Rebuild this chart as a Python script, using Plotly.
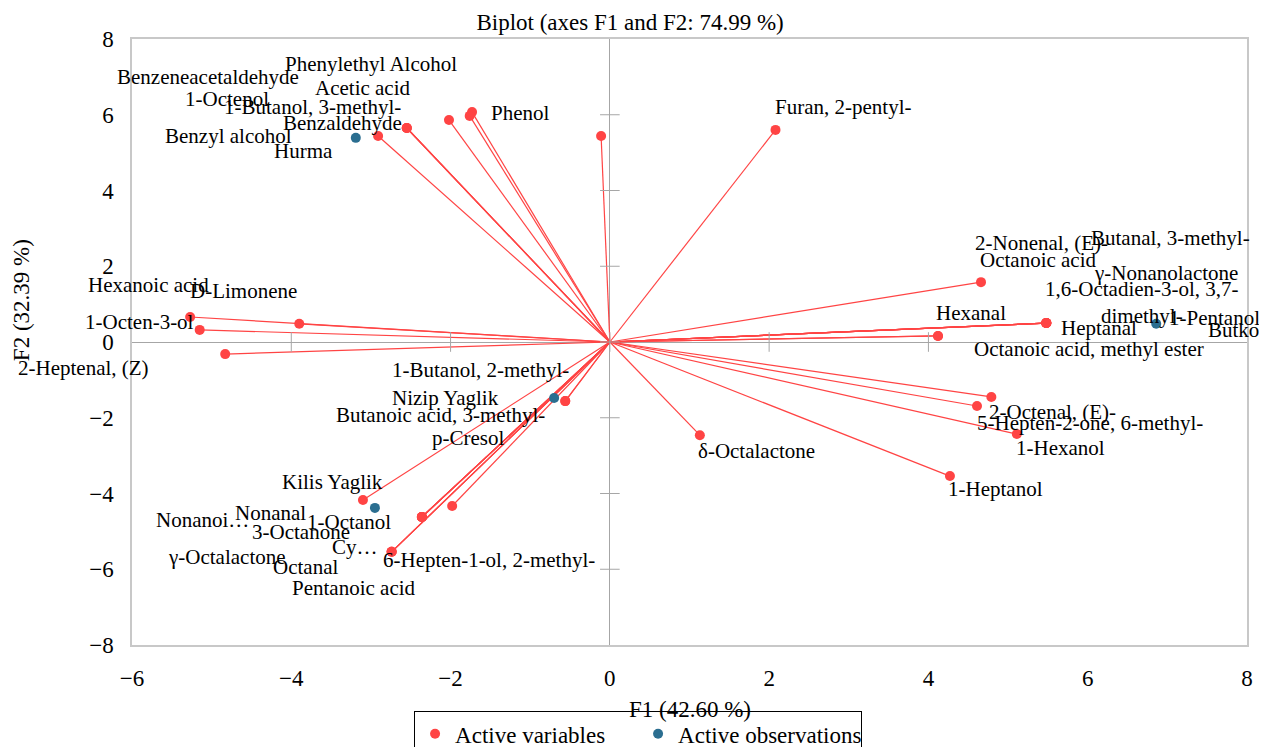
import plotly.graph_objects as go

# ---------------- data ----------------
var_names = [
    "Benzyl alcohol", "Benzaldehyde", "1-Butanol, 3-methyl-", "Benzeneacetaldehyde",
    "1-Octenol", "Phenylethyl Alcohol", "Acetic acid", "Phenol",
    "Furan, 2-pentyl-",
    "2-Nonenal, (E)-", "Butanal, 3-methyl-", "Octanoic acid", "γ-Nonanolactone",
    "1,6-Octadien-3-ol, 3,7-<br>dimethyl-", "1-Pentanol", "Heptanal",
    "Hexanal", "Octanoic acid, methyl ester",
    "2-Octenal, (E)-", "5-Hepten-2-one, 6-methyl-", "1-Hexanol", "1-Heptanol", "δ-Octalactone",
    "Hexanoic acid", "1-Octen-3-ol", "D-Limonene", "2-Heptenal, (Z)",
    "1-Butanol, 2-methyl-", "Butanoic acid, 3-methyl-", "Nonanoi…",
    "1-Octanol", "3-Octanone", "Nonanal", "γ-Octalactone", "Octanal",
    "p-Cresol", "6-Hepten-1-ol, 2-methyl-", "Pentanoic acid", "Cy…",
]
var_f1 = [
    -2.91, -2.55, -2.55, -2.55,
    -2.02, -1.73, -1.76, -0.11,
    2.08,
    4.66, 5.48, 5.48, 5.48,
    5.48, 5.48, 5.48,
    4.12, 4.12,
    4.79, 4.61, 5.11, 4.27, 1.13,
    -5.27, -5.15, -3.90, -4.83,
    -0.56, -0.56, -3.10,
    -2.36, -2.36, -2.36, -2.36, -2.36,
    -1.98, -2.74, -2.74, -2.74,
]
var_f2 = [
    5.44, 5.65, 5.65, 5.65,
    5.86, 6.07, 5.97, 5.44,
    5.60,
    1.58, 0.50, 0.50, 0.50,
    0.50, 0.50, 0.50,
    0.16, 0.16,
    -1.45, -1.69, -2.43, -3.54, -2.46,
    0.66, 0.32, 0.48, -0.32,
    -1.56, -1.56, -4.17,
    -4.62, -4.62, -4.62, -4.62, -4.62,
    -4.33, -5.54, -5.54, -5.54,
]

obs_names = ["Hurma", "Butko", "Nizip Yaglik", "Kilis Yaglik"]
obs_f1 = [-3.19, 6.86, -0.70, -2.95]
obs_f2 = [5.39, 0.48, -1.48, -4.38]

x_ticks = [-6, -4, -2, 0, 2, 4, 6, 8]
y_ticks = [-8, -6, -4, -2, 0, 2, 4, 6, 8]

# ---------------- style ----------------
RED = "#FF4444"
BLUE = "#2B6E90"
GREY = "#A6A6A6"
FONT = "Times New Roman, Liberation Serif, Tinos, DejaVu Serif, serif"

# label offsets in pixels (dx right, dy down) relative to each point
var_shift = {
    "Benzyl alcohol": (-150, 0), "Benzaldehyde": (-64, -5),
    "1-Butanol, 3-methyl-": (-94, -21), "Benzeneacetaldehyde": (-199, -51),
    "1-Octenol": (-222, -21), "Phenylethyl Alcohol": (-101, -48),
    "Acetic acid": (-107, -28), "Phenol": (-81, -23),
    "Furan, 2-pentyl-": (67, -23),
    "2-Nonenal, (E)-": (61, -39), "Butanal, 3-methyl-": (124, -85),
    "Octanoic acid": (-8, -63), "γ-Nonanolactone": (120, -50),
    "1,6-Octadien-3-ol, 3,7-<br>dimethyl-": (96, -21), "1-Pentanol": (168, -5),
    "Heptanal": (53, 5), "Hexanal": (33, -23), "Octanoic acid, methyl ester": (151, 13),
    "2-Octenal, (E)-": (61, 15), "5-Hepten-2-one, 6-methyl-": (113, 17),
    "1-Hexanol": (44, 14), "1-Heptanol": (46, 13), "δ-Octalactone": (57, 16),
    "Hexanoic acid": (-42, -32), "1-Octen-3-ol": (-60, -8),
    "D-Limonene": (-56, -33), "2-Heptenal, (Z)": (-142, 14),
    "1-Butanol, 2-methyl-": (-85, -31), "Butanoic acid, 3-methyl-": (-125, 14),
    "Nonanoi…": (-160, 20), "1-Octanol": (-73, 5), "3-Octanone": (-121, 15),
    "Nonanal": (-151, -4), "γ-Octalactone": (-195, 40), "Octanal": (-116, 50),
    "p-Cresol": (16, -68), "6-Hepten-1-ol, 2-methyl-": (97, 8),
    "Pentanoic acid": (-38, 36), "Cy…": (-37, -5),
}
obs_shift = {
    "Hurma": (-52, 13), "Butko": (77, 6),
    "Nizip Yaglik": (-109, 0), "Kilis Yaglik": (-42, -26),
}

fig = go.Figure()

# vectors from origin
lx, ly = [], []
for a, b in zip(var_f1, var_f2):
    lx += [0, a, None]
    ly += [0, b, None]
fig.add_trace(go.Scatter(x=lx, y=ly, mode="lines", line=dict(color=RED, width=1.2),
                         showlegend=False, hoverinfo="skip"))

# tick marks crossing the zero axes
xt_inner = [t for t in x_ticks if t not in (x_ticks[0], x_ticks[-1])]
yt_inner = [t for t in y_ticks if t not in (y_ticks[0], y_ticks[-1])]
fig.add_trace(go.Scatter(x=xt_inner, y=[0] * len(xt_inner),
                         mode="markers", showlegend=False, hoverinfo="skip",
                         marker=dict(symbol="line-ns-open", size=14, color=GREY,
                                     line=dict(color=GREY, width=1))))
fig.add_trace(go.Scatter(x=[0] * len(yt_inner), y=yt_inner,
                         mode="markers", showlegend=False, hoverinfo="skip",
                         marker=dict(symbol="line-ew-open", size=14, color=GREY,
                                     line=dict(color=GREY, width=1))))

fig.add_trace(go.Scatter(x=var_f1, y=var_f2, mode="markers", name="Active variables",
                         text=var_names, marker=dict(color=RED, size=10)))
fig.add_trace(go.Scatter(x=obs_f1, y=obs_f2, mode="markers", name="Active observations",
                         text=obs_names, marker=dict(color=BLUE, size=10)))

annotations = []
for n, a, b in zip(var_names, var_f1, var_f2):
    dx, dy = var_shift[n]
    annotations.append(dict(x=a, y=b, xref="x", yref="y", text=n, showarrow=False,
                            xshift=dx, yshift=-dy, xanchor="center", yanchor="middle",
                            font=dict(family=FONT, size=21, color="black")))
for n, a, b in zip(obs_names, obs_f1, obs_f2):
    dx, dy = obs_shift[n]
    annotations.append(dict(x=a, y=b, xref="x", yref="y", text=n, showarrow=False,
                            xshift=dx, yshift=-dy, xanchor="center", yanchor="middle",
                            font=dict(family=FONT, size=21, color="black")))

# axis titles
annotations.append(dict(x=0.5, y=-0.107, xref="paper", yref="paper", text="F1 (42.60 %)",
                        showarrow=False, xanchor="center", yanchor="middle",
                        font=dict(family=FONT, size=23, color="black")))
annotations.append(dict(x=-0.0996, y=0.569, xref="paper", yref="paper", text="F2 (32.39 %)",
                        showarrow=False, textangle=-90, xanchor="center", yanchor="middle",
                        font=dict(family=FONT, size=23, color="black")))

fig.update_layout(
    width=1267, height=747,
    margin=dict(l=124, r=28, t=31, b=110, autoexpand=False),
    paper_bgcolor="white", plot_bgcolor="white",
    font=dict(family=FONT, size=23, color="black"),
    title=dict(text="Biplot (axes F1 and F2: 74.99 %)", x=0.491, xref="container",
               xanchor="center", y=0.981, yref="container", yanchor="middle",
               font=dict(family=FONT, size=23, color="black")),
    annotations=annotations,
    showlegend=True,
    legend=dict(orientation="h", x=0.3205, y=0.0585, xref="container", yref="container",
                xanchor="left", yanchor="top",
                bordercolor="black", borderwidth=1, bgcolor="white",
                entrywidth=178, entrywidthmode="pixels",
                font=dict(family=FONT, size=23, color="black")),
)
fig.update_xaxes(range=[-6, 8], tickvals=x_ticks, showgrid=False,
                 zeroline=True, zerolinecolor=GREY, zerolinewidth=1,
                 showline=True, linecolor="#C8C8C8", linewidth=1.5, mirror=True,
                 ticks="outside", ticklen=12, tickcolor="rgba(0,0,0,0)",
                 tickfont=dict(family=FONT, size=23, color="black"))
fig.update_yaxes(range=[-8, 8], tickvals=y_ticks, showgrid=False,
                 zeroline=True, zerolinecolor=GREY, zerolinewidth=1,
                 showline=True, linecolor="#C8C8C8", linewidth=1.5, mirror=True,
                 ticks="outside", ticklen=12, tickcolor="rgba(0,0,0,0)",
                 tickfont=dict(family=FONT, size=23, color="black"))

fig.write_html("out.html")
